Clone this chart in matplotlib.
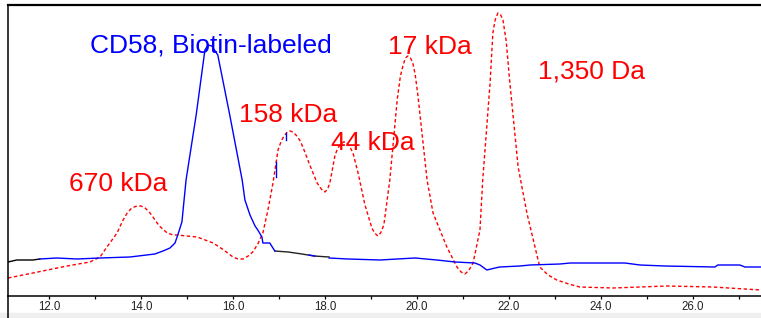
import matplotlib
matplotlib.use("Agg")
import matplotlib.pyplot as plt
from matplotlib.lines import Line2D
from matplotlib.patches import Rectangle
from matplotlib.ticker import MultipleLocator, FormatStrFormatter

plt.rcParams['font.family'] = ['Liberation Sans', 'DejaVu Sans']

# elution volume (ml) and detector signal (arbitrary units)
cd58_vol = [11.80, 12.17, 12.61, 13.11, 13.76, 14.30, 14.48, 14.63, 14.74, 14.80, 14.89,
            14.98, 15.20, 15.39, 15.46, 15.54, 15.67, 15.93, 16.20, 16.26, 16.37, 16.48,
            16.54, 16.63, 16.65, 16.80, 16.91]
cd58_sig = [37, 38, 37, 38, 39, 42, 45, 48, 53, 61, 74,
            116, 181, 246, 251, 250, 241, 181, 116, 96, 81, 70,
            66, 59, 53, 53, 45]

cd58_tail_vol = [18.09, 18.50, 19.20, 19.57, 19.96, 20.43, 20.83, 21.26, 21.37, 21.52,
                 21.70, 21.80, 22.24, 22.46, 23.11, 23.33, 24.52, 24.85, 25.39, 26.48,
                 26.54, 27.02, 27.13, 27.48]
cd58_tail_sig = [38, 37, 36, 37, 38, 36, 34, 33, 31, 26,
                 28, 29, 30, 31, 32, 33, 33, 31, 30, 29,
                 31, 31, 29, 29]

# short blue fragments drawn over the standards trace
frag_vol = [[16.93, 16.93], [17.15, 17.15], [17.65, 17.78]]
frag_sig = [[119, 134], [156, 163], [41, 40]]

# black baseline pieces
base1_vol = [11.11, 11.30, 11.65, 11.80]
base1_sig = [34, 36, 36, 37]
base2_vol = [16.91, 17.20, 17.50, 17.76, 18.09]
base2_sig = [45, 44, 42, 40, 39]

std_vol = [11.11, 11.65, 12.39, 12.89, 13.11, 13.26, 13.48, 13.60, 13.70, 13.80, 13.91,
           14.00, 14.09, 14.18, 14.26, 14.40, 14.57, 14.70, 14.78, 15.22, 15.57, 15.80,
           16.00, 16.11, 16.22, 16.33, 16.43, 16.54, 16.65, 16.76, 16.87, 16.98, 17.05,
           17.11, 17.18, 17.24, 17.30, 17.37, 17.45, 17.52, 17.67, 17.83, 17.92, 18.00,
           18.06, 18.11, 18.22, 18.28, 18.33, 18.40, 18.46, 18.53, 18.61, 18.72, 18.87,
           19.02, 19.08, 19.15, 19.21, 19.28, 19.41, 19.57, 19.64, 19.70, 19.75, 19.80,
           19.86, 19.91, 19.96, 20.02, 20.22, 20.35, 20.65, 20.87, 20.96, 21.04, 21.12,
           21.22, 21.37, 21.43, 21.59, 21.65, 21.70, 21.76, 21.82, 21.87, 21.94, 22.02,
           22.20, 22.39, 22.67, 22.85, 23.04, 23.30, 23.54, 24.26, 25.43, 26.43, 27.48]
std_sig = [18, 23, 30, 34, 39, 49, 63, 75, 83, 88, 90,
           90, 88, 84, 79, 70, 63, 61, 61, 59, 53, 46,
           39, 37, 37, 40, 44, 52, 63, 86, 113, 146, 155,
           160, 164, 165, 164, 161, 156, 149, 131, 113, 107, 104,
           107, 114, 141, 148, 151, 154, 154, 150, 143, 123, 91,
           68, 63, 60, 63, 71, 116, 196, 220, 231, 238, 240,
           238, 233, 222, 201, 116, 83, 49, 29, 24, 22, 25,
           33, 66, 116, 213, 263, 276, 283, 281, 276, 255, 213,
           129, 83, 29, 21, 16, 12, 9, 8, 10, 9, 6]

labels = ['CD58, Biotin-labeled', '17 kDa', '1,350 Da', '158 kDa', '44 kDa', '670 kDa']
label_vol = [12.89, 19.37, 22.63, 16.13, 18.13, 12.43]
label_sig = [243, 242, 217, 174, 146, 105]
label_col = ['#0000ff', '#ff0000', '#ff0000', '#ff0000', '#ff0000', '#ff0000']

fig = plt.figure(figsize=(7.61, 3.18), dpi=100)
left = 8 / 761
bottom = 22 / 318
ax = fig.add_axes([left, bottom, 1.0 - left, 291 / 318])

ax.plot(std_vol, std_sig, color='#ff0000', lw=1.0, dashes=(2.5, 1.8))
ax.plot(base1_vol, base1_sig, color='black', lw=1.0)
ax.plot(base2_vol, base2_sig, color='#222222', lw=1.0)
ax.plot(cd58_vol, cd58_sig, color='#0000ff', lw=1.0)
ax.plot(cd58_tail_vol, cd58_tail_sig, color='#0000ff', lw=1.0)
for fv, fs in zip(frag_vol, frag_sig):
    ax.plot(fv, fs, color='#0000ff', lw=1.0)

for t, v, s, c in zip(labels, label_vol, label_sig, label_col):
    ax.text(v, s, t, color=c, fontsize=19, ha='left', va='baseline')

ax.set_xlim(11.109, 27.48)
ax.set_ylim(0, 291)
ax.xaxis.set_major_locator(MultipleLocator(2))
ax.xaxis.set_minor_locator(MultipleLocator(1))
ax.xaxis.set_major_formatter(FormatStrFormatter('%.1f'))
ax.tick_params(axis='x', which='both', direction='out', length=2.4, width=0.9,
               pad=1.5, labelsize=8.3, labelcolor='#222222')
ax.set_yticks([])

ax.spines['right'].set_visible(False)
ax.spines['top'].set_linewidth(1.6)
ax.spines['bottom'].set_linewidth(1.1)
ax.spines['left'].set_linewidth(1.1)

# gray strip at the bottom and left border running through it
fig.patches.append(Rectangle((0, 0), 1, 5 / 318, transform=fig.transFigure,
                             color='#efefef', zorder=0))
fig.lines.append(Line2D([left, left], [0, bottom], transform=fig.transFigure,
                        color='black', lw=1.1))

fig.savefig('out.png', dpi=100)
